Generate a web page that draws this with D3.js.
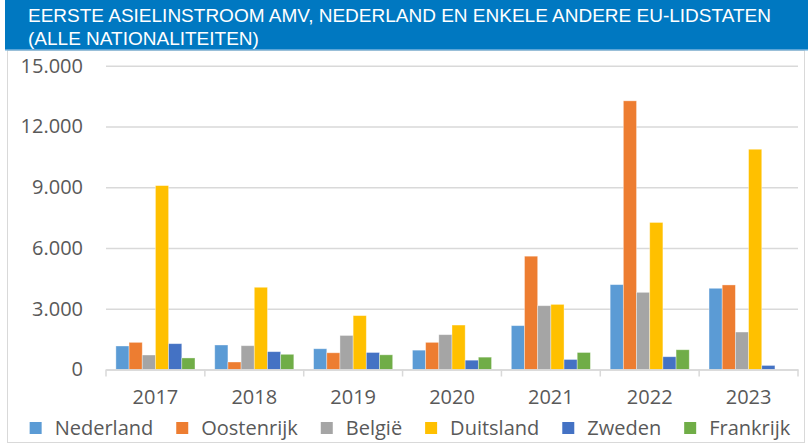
<!DOCTYPE html>
<html>
<head>
<meta charset="utf-8">
<script src="https://cdn.jsdelivr.net/npm/d3@7/dist/d3.min.js"></script>
<style>
  html, body { margin: 0; padding: 0; background: #fff; }
  svg { display: block; }
</style>
</head>
<body>
<svg id="chart" width="808" height="448"></svg>
<script>
// ---- data ----
const titleLines = ["EERSTE ASIELINSTROOM AMV, NEDERLAND EN ENKELE ANDERE EU-LIDSTATEN", "(ALLE NATIONALITEITEN)"];
const years = ["2017", "2018", "2019", "2020", "2021", "2022", "2023"];
const seriesNames = ["Nederland", "Oostenrijk", "België", "Duitsland", "Zweden", "Frankrijk"];
const nederland  = [1160, 1210, 1025,  955, 2165,  4190,  4010];
const oostenrijk = [1340,  370,  825, 1340, 5595, 13265,  4175];
const belgie     = [ 715, 1175, 1680, 1720, 3150,  3810,  1850];
const duitsland  = [9080, 4060, 2660, 2195, 3215,  7260, 10875];
const zweden     = [1275,  880,  840,  460,  495,   630,   200];
const frankrijk  = [ 570,  750,  725,  610,  840,   975,     0];
const yTicks = [0, 3000, 6000, 9000, 12000, 15000];
const colors = ["#5B9BD5", "#ED7D31", "#A5A5A5", "#FFC000", "#4472C4", "#70AD47"];

const seriesValues = [nederland, oostenrijk, belgie, duitsland, zweden, frankrijk];

const svg = d3.select("#chart");
const textColor = "#595959";
const gridColor = "#D9D9D9";
const axisFont = "'Open Sans', 'Segoe UI', sans-serif";

// chart box
svg.append("rect").attr("x", 7.5).attr("y", 50.5).attr("width", 797).attr("height", 392)
  .attr("fill", "#fff").attr("stroke", gridColor).attr("stroke-width", 1);

// title bar
svg.append("rect").attr("x", 5).attr("y", 0).attr("width", 803).attr("height", 50).attr("fill", "#0078C1");
svg.append("rect").attr("x", 5).attr("y", 49).attr("width", 803).attr("height", 1.5).attr("fill", "#5AA5D8");
titleLines.forEach((t, i) => {
  svg.append("text").attr("fill", "#fff")
    .attr("font-family", "'Liberation Sans', Arial, sans-serif")
    .attr("font-size", 19)
    .attr("x", 28).attr("y", 22 + i * 23)
    .text(t);
});

// scales
const x = d3.scaleBand().domain(years).range([106, 798]).paddingInner(0).paddingOuter(0);
const xs = d3.scaleBand().domain(seriesNames).range([0, x.bandwidth()]).paddingInner(0).paddingOuter(0.75);
const y = d3.scaleLinear().domain([0, 15000]).range([369.5, 65.7]);
const fmt = v => d3.format(",")(v).replace(/,/g, ".");

// gridlines
const yAxis = d3.axisLeft(y).tickValues(yTicks).tickSize(-(798 - 106)).tickFormat(fmt).tickPadding(23);
const gy = svg.append("g").attr("transform", "translate(106,0)").call(yAxis);
gy.select(".domain").remove();
gy.selectAll(".tick line").attr("stroke", gridColor).attr("stroke-width", 1.5);
gy.selectAll(".tick text").attr("fill", textColor).attr("font-family", axisFont).attr("font-size", 20);

// bars
const bars = svg.append("g");
seriesNames.forEach((s, si) => {
  bars.append("g").selectAll("rect").data(years.map((yr, i) => ({ yr, v: seriesValues[si][i] })))
    .join("rect")
    .attr("x", d => x(d.yr) + xs(s))
    .attr("width", xs.bandwidth())
    .attr("y", d => y(d.v))
    .attr("height", d => y(0) - y(d.v))
    .attr("fill", colors[si])
    .attr("stroke", "rgba(255,255,255,0.45)")
    .attr("stroke-width", 0.8);
});

// x axis
const xAxis = d3.axisBottom(x).tickSize(0).tickPadding(0);
const gx = svg.append("g").attr("transform", `translate(0,${y(0)})`).call(xAxis);
gx.select(".domain").attr("stroke", gridColor).attr("stroke-width", 1.5);
gx.selectAll(".tick text").attr("fill", textColor).attr("font-family", axisFont).attr("font-size", 20)
  .attr("dy", "1.7em");
// category separator ticks
const seps = years.map(yr => x(yr)).concat([x.range()[1]]);
svg.append("g").selectAll("line").data(seps).join("line")
  .attr("x1", d => d).attr("x2", d => d).attr("y1", y(0)).attr("y2", y(0) + 7)
  .attr("stroke", gridColor).attr("stroke-width", 1.5);

// legend
const legend = svg.append("g");
const items = legend.selectAll("g").data(seriesNames).join("g");
items.append("rect").attr("width", 12).attr("height", 12).attr("y", 422).attr("fill", (d, i) => colors[i]);
items.append("text").attr("x", 25).attr("y", 435).text(d => d)
  .attr("fill", textColor).attr("font-family", axisFont).attr("font-size", 20);
let widths = [];
items.each(function () { widths.push(this.querySelector("text").getComputedTextLength() + 25); });
const spacing = 23;
const total = d3.sum(widths) + spacing * (widths.length - 1);
let cx = 410 - total / 2;
items.each(function (d, i) { d3.select(this).attr("transform", `translate(${cx},0)`); cx += widths[i] + spacing; });
</script>
</body>
</html>
